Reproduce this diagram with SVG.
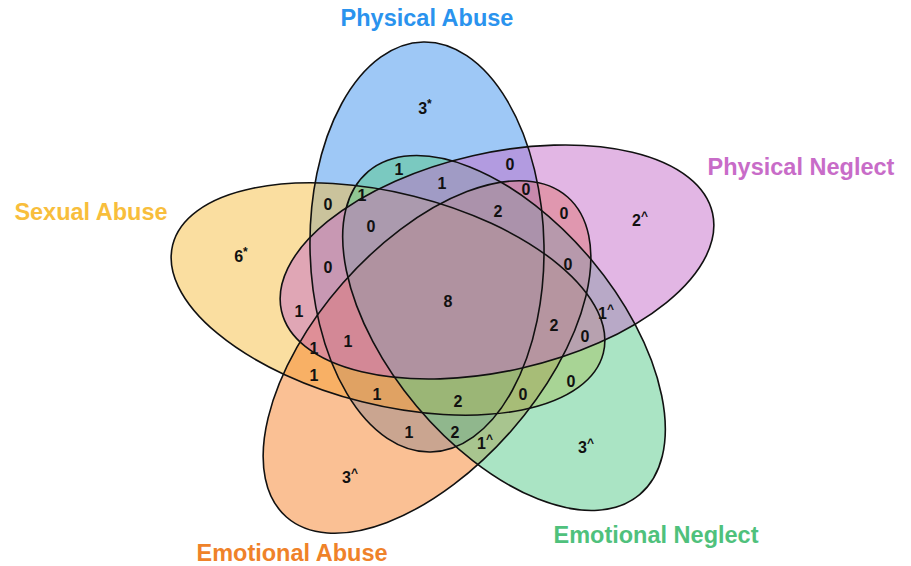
<svg xmlns="http://www.w3.org/2000/svg" width="911" height="566" viewBox="0 0 911 566">
<style>
.fill{stroke:none;fill-opacity:0.5}
.outline{fill:none;stroke:#111;stroke-width:1.6}
.n{font-family:"Liberation Sans",Arial,sans-serif;font-weight:bold;font-size:16px;fill:#111;text-anchor:middle}
.sup{font-size:12px}
.t{font-family:"Liberation Sans",Arial,sans-serif;font-weight:bold;font-size:23.5px;text-anchor:middle}
</style>
<defs>
<ellipse id="eBlue" cx="427" cy="247" rx="117" ry="205" transform="rotate(-1 427 247)"/>
<ellipse id="eYellow" cx="388" cy="299" rx="222" ry="106" transform="rotate(14.1 388 299)"/>
<ellipse id="eOrange" cx="427" cy="357" rx="213" ry="112" transform="rotate(-48.7 427 357)"/>
<ellipse id="eGreen" cx="504" cy="333" rx="211" ry="114" transform="rotate(50 504 333)"/>
<ellipse id="ePurple" cx="497" cy="262" rx="221" ry="109" transform="rotate(-12.8 497 262)"/>
</defs>
<rect width="911" height="566" fill="#fff"/>
<g id="physical-abuse">
<use href="#eBlue" class="fill" fill="#3D91ED"/>
<text class="t" x="427" y="26" fill="#2A93EE">Physical Abuse</text>
</g>
<g id="sexual-abuse">
<use href="#eYellow" class="fill" fill="#F5BD41"/>
<text class="t" x="91" y="220" fill="#F8BE3C">Sexual Abuse</text>
</g>
<g id="emotional-abuse">
<use href="#eOrange" class="fill" fill="#F58129"/>
<text class="t" x="292" y="561" fill="#EF8229">Emotional Abuse</text>
</g>
<g id="emotional-neglect">
<use href="#eGreen" class="fill" fill="#55C989"/>
<text class="t" x="656" y="543" fill="#4FC17C">Emotional Neglect</text>
</g>
<g id="physical-neglect">
<use href="#ePurple" class="fill" fill="#C56DC9"/>
<text class="t" x="801" y="175" fill="#C86CC8">Physical Neglect</text>
</g>
<g id="outlines">
<use href="#eBlue" class="outline"/>
<use href="#eYellow" class="outline"/>
<use href="#eOrange" class="outline"/>
<use href="#eGreen" class="outline"/>
<use href="#ePurple" class="outline"/>
</g>
<g id="counts">
<text class="n" x="425" y="114">3<tspan class="sup" dy="-6">*</tspan></text>
<text class="n" x="640" y="226">2<tspan class="sup" dy="-6">^</tspan></text>
<text class="n" x="586" y="453">3<tspan class="sup" dy="-6">^</tspan></text>
<text class="n" x="350" y="483">3<tspan class="sup" dy="-6">^</tspan></text>
<text class="n" x="241" y="262">6<tspan class="sup" dy="-6">*</tspan></text>
<text class="n" x="399" y="175">1</text>
<text class="n" x="510" y="170">0</text>
<text class="n" x="362" y="201">1</text>
<text class="n" x="442" y="189">1</text>
<text class="n" x="526" y="195">0</text>
<text class="n" x="328" y="210">0</text>
<text class="n" x="498" y="217">2</text>
<text class="n" x="564" y="219">0</text>
<text class="n" x="371" y="232">0</text>
<text class="n" x="328" y="273">0</text>
<text class="n" x="568" y="270">0</text>
<text class="n" x="448" y="307">8</text>
<text class="n" x="299" y="317">1</text>
<text class="n" x="606" y="319">1<tspan class="sup" dy="-6">^</tspan></text>
<text class="n" x="554" y="331">2</text>
<text class="n" x="585" y="342">0</text>
<text class="n" x="314" y="354">1</text>
<text class="n" x="348" y="347">1</text>
<text class="n" x="314" y="381">1</text>
<text class="n" x="571" y="387">0</text>
<text class="n" x="377" y="400">1</text>
<text class="n" x="458" y="407">2</text>
<text class="n" x="523" y="400">0</text>
<text class="n" x="409" y="438">1</text>
<text class="n" x="455" y="438">2</text>
<text class="n" x="485" y="449">1<tspan class="sup" dy="-6">^</tspan></text>
</g>
</svg>
